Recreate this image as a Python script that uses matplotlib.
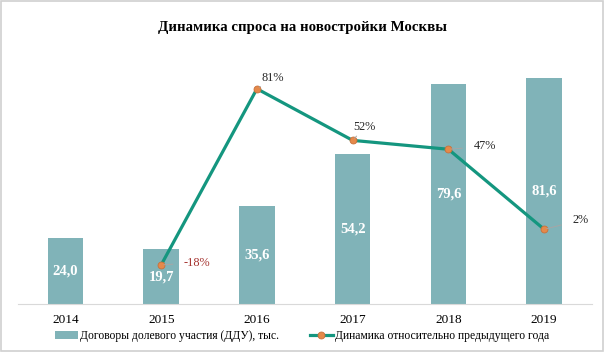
import matplotlib.pyplot as plt
from matplotlib.patches import Rectangle

years = ['2014', '2015', '2016', '2017', '2018', '2019']
ddu = [24.0, 19.7, 35.6, 54.2, 79.6, 81.6]
dyn_years = [1, 2, 3, 4, 5]
dyn = [-18, 81, 52, 47, 2]
dyn_labels = ['-18%', '81%', '52%', '47%', '2%']

bar_color = '#80B3B8'
line_color = '#14967F'
marker_color = '#E5894A'

plt.rcParams['font.family'] = ['Liberation Serif', 'DejaVu Serif']

fig = plt.figure(figsize=(6.04, 3.52), dpi=100)
fig.patches.append(Rectangle((0.002, 0.003), 0.996, 0.994, transform=fig.transFigure,
                             fill=False, edgecolor='#D0D0D0', linewidth=1.2))

ax = fig.add_axes([17.6 / 604, 1 - 304 / 352, 574.4 / 604, 249 / 352])
x = range(len(years))
bars = ax.bar(x, ddu, width=0.37, color=bar_color, label='Договоры долевого участия (ДДУ), тыс.')
ax.set_xlim(-0.5, 5.5)
ax.set_ylim(0, 90)
ax.set_yticks([])
ax.set_xticks(list(x))
ax.set_xticklabels(years, fontsize=9.5)
ax.tick_params(axis='x', length=0, pad=7)
for s in ['top', 'right', 'left']:
    ax.spines[s].set_visible(False)
ax.spines['bottom'].set_color('#D9D9D9')

for xi, v in zip(x, ddu):
    ax.text(xi, v / 2, f'{v:.1f}'.replace('.', ','), ha='center', va='center',
            color='white', fontsize=10.5, fontweight='bold')

ax2 = ax.twinx()
ax2.set_ylim(-40, 100)
ax2.set_yticks([])
for s in ['top', 'right', 'left', 'bottom']:
    ax2.spines[s].set_visible(False)
ln, = ax2.plot(dyn_years, dyn, color=line_color, linewidth=2.3, marker='o', markersize=5,
               markerfacecolor=marker_color, markeredgecolor='#C8703A', markeredgewidth=0.6,
               label='Динамика относительно предыдущего года')

offsets = [(26, 1.5), (11.5, 8), (8.6, 9.4), (26, 2), (26, 6.5)]
for xi, v, lab, off in zip(dyn_years, dyn, dyn_labels, offsets):
    col = '#A5322E' if v < 0 else '#262626'
    ax2.annotate(lab, (xi, v), xytext=off, textcoords='offset points', fontsize=8.8,
                 color=col, ha='center', va='center',
                 arrowprops=dict(arrowstyle='-', color='#A6A6A6', lw=0.7, shrinkA=6, shrinkB=2))

fig.text(0.5, 1 - 27 / 352, 'Динамика спроса на новостройки Москвы', ha='center', va='center',
         fontsize=10.7, fontweight='bold')

fig.legend([bars, ln], [bars.get_label(), ln.get_label()], loc='center', ncol=2,
           bbox_to_anchor=(0.5, 1 - 336 / 352), frameon=False, fontsize=8.4,
           handlelength=2.0, columnspacing=2.6, handletextpad=0.2)

fig.savefig('out.png', dpi=100)
